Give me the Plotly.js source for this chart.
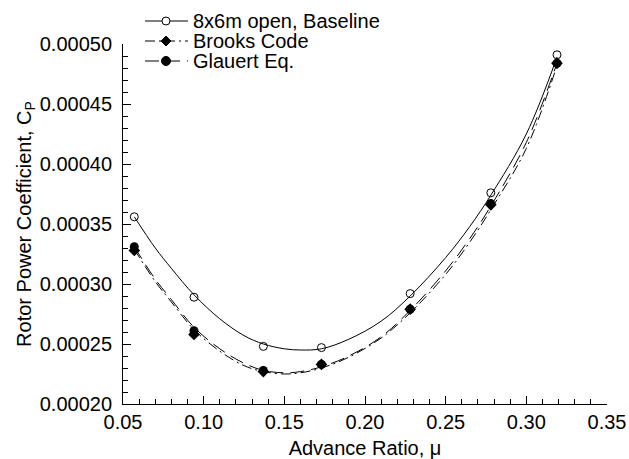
<!DOCTYPE html>
<html>
<head>
<meta charset="utf-8">
<script src="https://cdn.plot.ly/plotly-3.0.1.min.js"></script>
<style>html,body{margin:0;padding:0;background:#fff;}#chart{width:629px;height:459px;}</style>
</head>
<body>
<div id="chart"></div>
<script>
// Measured data points (advance ratio mu, power coefficient Cp)
const mu = [0.057, 0.094, 0.137, 0.173, 0.228, 0.278, 0.319];
const cpBaseline = [0.000356, 0.000289, 0.000248, 0.000247, 0.000292, 0.000376, 0.000491];
const cpBrooks = [0.000328, 0.000258, 0.000227, 0.000233, 0.000279, 0.000366, 0.000484];
const cpGlauert = [0.000331, 0.000261, 0.000228, 0.000233, 0.000279, 0.000367, 0.000484];

// Curve-fit lines
const muFit = [0.057, 0.07, 0.08, 0.094, 0.11, 0.125, 0.137, 0.15, 0.16, 0.173, 0.19, 0.21, 0.228, 0.25, 0.265, 0.278, 0.30, 0.319];
const cpBaselineFit = [0.000356, 0.000330, 0.000313, 0.000291, 0.000271, 0.000257, 0.000250, 0.000246, 0.000245, 0.000246, 0.000254, 0.000269, 0.000290, 0.000322, 0.000348, 0.000374, 0.000425, 0.000489];
const cpBrooksFit = [0.000329, 0.000302, 0.000285, 0.000262, 0.000244, 0.000232, 0.000227, 0.000225, 0.000226, 0.000230, 0.000239, 0.000255, 0.000276, 0.000308, 0.000335, 0.000362, 0.000413, 0.000482];
const cpGlauertFit = [0.000331, 0.000304, 0.000287, 0.000264, 0.000246, 0.000234, 0.000228, 0.000226, 0.000227, 0.000231, 0.000240, 0.000256, 0.000278, 0.000311, 0.000338, 0.000365, 0.000418, 0.000484];

const seriesNames = ["8x6m open, Baseline", "Brooks Code", "Glauert Eq."];
const xTickVals = [0.05, 0.10, 0.15, 0.20, 0.25, 0.30, 0.35];
const yTickVals = [0.00020, 0.00025, 0.00030, 0.00035, 0.00040, 0.00045, 0.00050];

const FONT = "Arial, 'Liberation Sans', sans-serif";
const BROOKS_DASH = "10px,4px,2px,4px";
const GLAUERT_DASH = "14px,7px";

const traces = [
  {x: muFit, y: cpBaselineFit, mode: "lines", line: {color: "#000", width: 1, shape: "spline"}, showlegend: false, hoverinfo: "skip"},
  {x: muFit, y: cpBrooksFit, mode: "lines", line: {color: "#000", width: 1, dash: BROOKS_DASH, shape: "spline"}, showlegend: false, hoverinfo: "skip"},
  {x: muFit, y: cpGlauertFit, mode: "lines", line: {color: "#000", width: 1, dash: GLAUERT_DASH, shape: "spline"}, showlegend: false, hoverinfo: "skip"},
  {x: mu, y: cpBaseline, name: seriesNames[0], mode: "markers", marker: {symbol: "circle-open", size: 8, color: "#000", line: {width: 1, color: "#000"}}, showlegend: false},
  {x: mu, y: cpBrooks, name: seriesNames[1], mode: "markers", marker: {symbol: "diamond", size: 9, color: "#000"}, showlegend: false},
  {x: mu, y: cpGlauert, name: seriesNames[2], mode: "markers", marker: {symbol: "circle", size: 9, color: "#000"}, showlegend: false}
];

// Legend key drawn as layout decorations (paper coordinates)
const L = 123, PW = 484, B = 404, PH = 360;
const px = v => (v - L) / PW;
const py = v => (B - v) / PH;
const rowsY = [21, 41, 61];
const lineX0 = 145, lineX1 = 188, markX = 166, textX = 191;
const legendDash = ["solid", BROOKS_DASH, GLAUERT_DASH];

const shapes = [];
const annotations = [];
rowsY.forEach((ry, i) => {
  shapes.push({type: "line", xref: "paper", yref: "paper", x0: px(lineX0), x1: px(lineX1), y0: py(ry), y1: py(ry),
    line: {color: "#000", width: 1, dash: legendDash[i]}});
  annotations.push({xref: "paper", yref: "paper", x: px(textX), y: py(ry), text: seriesNames[i], showarrow: false,
    xanchor: "left", yanchor: "middle", font: {family: FONT, size: 20, color: "#000"}});
});
// markers
shapes.push({type: "circle", xref: "paper", yref: "paper", xsizemode: "pixel", ysizemode: "pixel",
  xanchor: px(markX), yanchor: py(rowsY[0]), x0: -4, x1: 4, y0: -4, y1: 4, fillcolor: "#fff", line: {color: "#000", width: 1}});
shapes.push({type: "path", xref: "paper", yref: "paper", xsizemode: "pixel", ysizemode: "pixel",
  xanchor: px(markX), yanchor: py(rowsY[1]), path: "M0,5 L5,0 L0,-5 L-5,0 Z", fillcolor: "#000", line: {color: "#000", width: 1}});
shapes.push({type: "circle", xref: "paper", yref: "paper", xsizemode: "pixel", ysizemode: "pixel",
  xanchor: px(markX), yanchor: py(rowsY[2]), x0: -4.5, x1: 4.5, y0: -4.5, y1: 4.5, fillcolor: "#000", line: {color: "#000", width: 1}});

const layout = {
  width: 629, height: 459,
  margin: {l: 123, r: 22, t: 44, b: 55, pad: 0},
  paper_bgcolor: "#fff", plot_bgcolor: "#fff",
  font: {family: FONT, size: 20, color: "#000"},
  showlegend: false,
  xaxis: {
    range: [0.05, 0.35], tickvals: xTickVals, tickformat: ".2f",
    showgrid: false, zeroline: false, showline: true, linecolor: "#000", linewidth: 1,
    ticks: "inside", ticklen: 8, tickcolor: "#000", tickwidth: 1,
    minor: {dtick: 0.01, ticks: "inside", ticklen: 5, tickcolor: "#000", tickwidth: 1, showgrid: false},
    tickfont: {family: FONT, size: 20},
    title: {text: "Advance Ratio, \u03bc", font: {family: FONT, size: 20}, standoff: 8},
    automargin: false
  },
  yaxis: {
    range: [0.0002, 0.0005], tickvals: yTickVals, tickformat: ".5f",
    showgrid: false, zeroline: false, showline: true, linecolor: "#000", linewidth: 1,
    ticks: "inside", ticklen: 8, tickcolor: "#000", tickwidth: 1,
    minor: {dtick: 0.00001, ticks: "inside", ticklen: 5, tickcolor: "#000", tickwidth: 1, showgrid: false},
    tickfont: {family: FONT, size: 20},
    ticklabelstandoff: 6,
    title: {text: "Rotor Power Coefficient, C<sub>P</sub>", font: {family: FONT, size: 20}},
    automargin: false
  },
  shapes: shapes,
  annotations: annotations
};

Plotly.newPlot("chart", traces, layout, {displayModeBar: false, staticPlot: true});
</script>
</body>
</html>
